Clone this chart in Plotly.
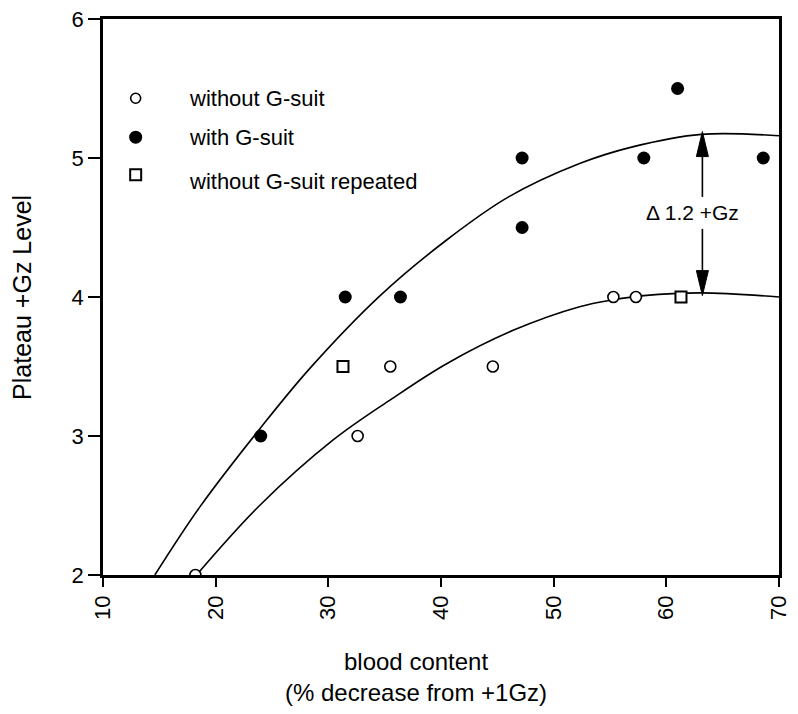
import plotly.graph_objects as go

# without G-suit (open circles)
x_without = [18.2, 32.6, 35.5, 44.6, 55.3, 57.3]
y_without = [2.0, 3.0, 3.5, 3.5, 4.0, 4.0]

# with G-suit (filled circles)
x_with = [24.0, 31.5, 36.4, 47.2, 47.2, 58.0, 61.0, 68.6]
y_with = [3.0, 4.0, 4.0, 4.5, 5.0, 5.0, 5.5, 5.0]

# without G-suit repeated (open squares)
x_repeat = [31.3, 61.3]
y_repeat = [3.5, 4.0]

# fitted curves
x_fit_with = [14.6, 18.6, 24.1, 28.4, 34.6, 40.5, 46.0, 52.3, 57.0, 63.1, 70.0]
y_fit_with = [2.0, 2.49, 3.07, 3.49, 4.01, 4.41, 4.72, 4.96, 5.08, 5.17, 5.16]

x_fit_without = [18.3, 23.9, 30.4, 35.5, 40.5, 46.4, 52.3, 55.3, 58.0, 63.1, 70.0]
y_fit_without = [2.0, 2.5, 2.97, 3.26, 3.52, 3.76, 3.93, 3.98, 4.01, 4.03, 4.0]

# legend entries (drawn inside the plot)
legend_labels = ["without G-suit", "with G-suit", "without G-suit repeated"]
legend_y = [5.43, 5.15, 4.83]
legend_x = 12.9

# difference marker between the two curves
delta_x = 63.2
delta_top = 5.19
delta_bottom = 4.01
delta_label = "Δ 1.2 +Gz"

x_ticks = [10, 20, 30, 40, 50, 60, 70]
y_ticks = [2, 3, 4, 5, 6]

FONT = "Liberation Sans, Arial, sans-serif"

fig = go.Figure()

fig.add_trace(go.Scatter(x=x_fit_with, y=y_fit_with, mode="lines",
                         line=dict(color="black", width=1.6, shape="spline", smoothing=1.0)))
fig.add_trace(go.Scatter(x=x_fit_without, y=y_fit_without, mode="lines",
                         line=dict(color="black", width=1.6, shape="spline", smoothing=1.0)))

open_marker = dict(symbol="circle", size=11, color="white", line=dict(width=1.6, color="black"))
fill_marker = dict(symbol="circle", size=13, color="black")
square_marker = dict(symbol="square", size=11, color="white", line=dict(width=2, color="black"))

fig.add_trace(go.Scatter(x=x_without, y=y_without, mode="markers", marker=open_marker))
fig.add_trace(go.Scatter(x=x_with, y=y_with, mode="markers", marker=fill_marker))
fig.add_trace(go.Scatter(x=x_repeat, y=y_repeat, mode="markers", marker=square_marker))

# manual legend
fig.add_trace(go.Scatter(x=[legend_x], y=[legend_y[0]], mode="markers",
                         marker=dict(open_marker, size=10)))
fig.add_trace(go.Scatter(x=[legend_x], y=[legend_y[1]], mode="markers", marker=fill_marker))
fig.add_trace(go.Scatter(x=[legend_x], y=[legend_y[2] + 0.05], mode="markers", marker=square_marker))
for label, ly in zip(legend_labels, legend_y):
    fig.add_annotation(x=17.45, y=ly, text=label, showarrow=False, xanchor="left",
                       font=dict(size=22, color="black", family=FONT))

# delta arrows: shafts in data units, heads as narrow triangles in pixels
fig.add_shape(type="line", x0=delta_x, x1=delta_x, y0=4.72, y1=delta_top - 0.15,
              line=dict(color="black", width=1.6))
fig.add_shape(type="line", x0=delta_x, x1=delta_x, y0=4.49, y1=delta_bottom + 0.15,
              line=dict(color="black", width=1.6))
fig.add_shape(type="path", xref="x", yref="y", xsizemode="pixel", ysizemode="pixel",
              xanchor=delta_x, yanchor=delta_top, path="M0,0 L-6,-25 L6,-25 Z",
              fillcolor="black", line=dict(color="black", width=1))
fig.add_shape(type="path", xref="x", yref="y", xsizemode="pixel", ysizemode="pixel",
              xanchor=delta_x, yanchor=delta_bottom, path="M0,0 L-6,25 L6,25 Z",
              fillcolor="black", line=dict(color="black", width=1))
fig.add_annotation(x=62.3, y=4.61, text=delta_label, showarrow=False,
                   font=dict(size=21, color="black", family=FONT))

# axis titles
fig.add_annotation(x=37.8, y=-0.183, xref="x", yref="paper", showarrow=False,
                   text="blood content<br>(% decrease from +1Gz)", align="center",
                   xanchor="center", yanchor="middle",
                   font=dict(size=24, color="black", family=FONT))
fig.add_annotation(x=-0.12, y=4.0, xref="paper", yref="y", showarrow=False,
                   text="Plateau +Gz Level", textangle=-90,
                   xanchor="center", yanchor="middle",
                   font=dict(size=25, color="black", family=FONT))

fig.update_xaxes(range=[10, 70], tickvals=x_ticks, tickangle=-90, automargin=False,
                 ticklabeloverflow="allow",
                 ticks="outside", ticklen=9, tickwidth=2, tickcolor="black",
                 showline=True, linewidth=2.5, linecolor="black", mirror=True,
                 showgrid=False, zeroline=False,
                 tickfont=dict(size=22, color="black", family=FONT))
fig.update_yaxes(range=[2, 6], tickvals=y_ticks, automargin=False,
                 ticklabeloverflow="allow",
                 ticks="outside", ticklen=12, tickwidth=2, tickcolor="black",
                 showline=True, linewidth=2.5, linecolor="black", mirror=True,
                 showgrid=False, zeroline=False,
                 tickfont=dict(size=22, color="black", family=FONT))

fig.update_layout(width=798, height=714, showlegend=False,
                  plot_bgcolor="white", paper_bgcolor="white",
                  margin=dict(l=95, r=27, t=11, b=147))

fig.write_html("out.html")
